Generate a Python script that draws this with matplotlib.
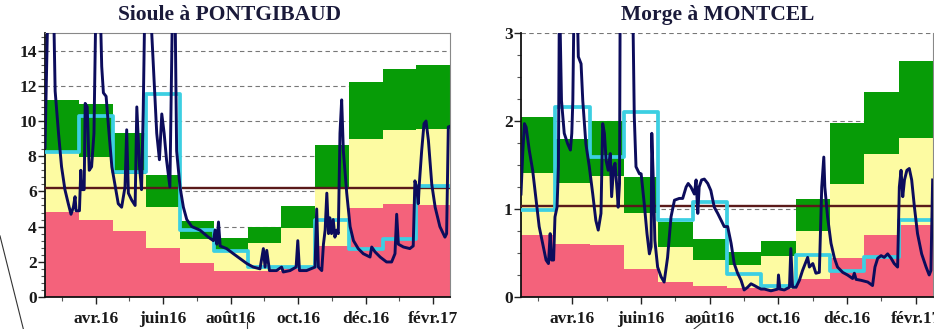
import numpy as np
import matplotlib
matplotlib.use("Agg")
import matplotlib.pyplot as plt
from matplotlib.ticker import MultipleLocator, FixedLocator
from matplotlib.lines import Line2D

plt.rcParams['font.family'] = ['Liberation Serif', 'DejaVu Serif']
plt.rcParams['font.weight'] = 'bold'

# ---------------- data ----------------
month_labels = ["avr.16", "juin16", "août16", "oct.16", "déc.16", "févr.17"]
label_pos = [1.5, 3.5, 5.5, 7.5, 9.5, 11.5]

# Sioule à PONTGIBAUD (monthly bands)
L_pink_top = [4.83, 4.36, 3.75, 2.80, 1.91, 1.50, 1.50, 1.62, 2.90, 5.03, 5.28, 5.20]
L_green_bot = [8.24, 7.95, 7.00, 5.11, 3.30, 2.67, 3.05, 3.90, 6.20, 8.98, 9.50, 9.55]
L_green_top = [11.17, 10.95, 9.34, 6.91, 4.33, 3.33, 4.00, 5.15, 8.64, 12.23, 12.94, 13.20]
L_cyan = [8.24, 10.30, 7.10, 11.55, 3.83, 2.62, 1.72, 1.72, 4.37, 2.70, 3.28, 6.28]
L_ref = 6.22

L_x = [0.00, 0.10, 0.25, 0.30, 0.40, 0.49, 0.59, 0.69, 0.77, 0.84, 0.89, 0.92, 1.02, 1.06,
       1.09, 1.16, 1.19, 1.25, 1.31, 1.38, 1.45, 1.51, 1.63, 1.68, 1.73, 1.81, 1.88, 1.98,
       2.07, 2.17, 2.27, 2.37, 2.42, 2.47, 2.57, 2.67, 2.72, 2.80, 2.86, 2.91, 2.96, 3.11,
       3.21, 3.31, 3.39, 3.46, 3.53, 3.60, 3.70, 3.78, 3.85, 3.90, 4.00, 4.10, 4.20, 4.35,
       4.59, 4.84, 4.99, 5.04, 5.09, 5.14, 5.19, 5.38, 5.58, 5.78, 5.98, 6.17, 6.37, 6.47,
       6.52, 6.57, 6.65, 6.86, 7.01, 7.06, 7.26, 7.44, 7.49, 7.54, 7.75, 8.00, 8.05, 8.10,
       8.20, 8.25, 8.30, 8.35, 8.40, 8.44, 8.49, 8.54, 8.59, 8.64, 8.69, 8.74, 8.79, 8.84,
       8.94, 9.04, 9.14, 9.28, 9.43, 9.63, 9.68, 9.78, 9.93, 10.12, 10.27, 10.37, 10.42,
       10.47, 10.62, 10.81, 10.91, 10.96, 11.01, 11.06, 11.09, 11.16, 11.23, 11.29, 11.36,
       11.46, 11.56, 11.70, 11.85, 11.90, 11.95, 12.00]
L_flow = [8.5, 18.0, 17.0, 11.7, 9.3, 7.4, 6.1, 5.3, 4.7, 5.1, 5.7, 4.9, 4.9, 7.2,
          6.1, 6.1, 11.0, 10.8, 7.2, 7.4, 9.3, 17.0, 17.0, 13.1, 11.6, 11.4, 9.7, 7.4,
          6.4, 5.3, 5.1, 6.25, 9.5, 5.9, 5.5, 5.2, 10.8, 7.4, 6.1, 10.6, 17.0, 17.0,
          13.1, 9.3, 7.8, 10.4, 9.3, 7.8, 6.25, 17.0, 17.0, 8.3, 6.25, 5.1, 4.4, 4.0,
          3.8, 3.4, 3.2, 3.8, 3.0, 4.26, 2.9, 2.75, 2.46, 2.18, 1.9, 1.7, 1.6, 2.75,
          1.7, 2.65, 1.5, 1.5, 1.7, 1.42, 1.5, 1.7, 3.2, 1.5, 1.5, 1.7, 5.0, 1.7,
          1.5, 3.0, 3.8, 5.9, 3.6, 4.5, 3.6, 4.4, 3.4, 3.8, 3.6, 9.3, 11.2, 8.3,
          5.9, 4.0, 3.2, 2.75, 2.46, 2.27, 2.84, 2.56, 2.27, 1.99, 1.99, 2.46, 4.7,
          3.0, 2.84, 2.75, 2.9, 6.6, 6.25, 5.3, 6.4, 8.3, 9.85, 10.0, 8.9,
          6.4, 5.1, 4.0, 3.4, 3.6, 9.66, 9.7]

# Morge à MONTCEL
R_pink_top = [0.70, 0.60, 0.59, 0.32, 0.17, 0.12, 0.106, 0.095, 0.21, 0.44, 0.70, 0.82]
R_green_bot = [1.41, 1.29, 1.375, 0.95, 0.57, 0.42, 0.36, 0.47, 0.75, 1.28, 1.63, 1.81]
R_green_top = [2.04, 1.80, 2.00, 1.36, 0.85, 0.66, 0.51, 0.64, 1.11, 1.98, 2.33, 2.68]
R_cyan = [0.99, 2.16, 1.59, 2.10, 0.875, 1.08, 0.26, 0.12, 0.48, 0.29, 0.46, 0.88]
R_ref = 1.03

R_x = [0.00, 0.05, 0.10, 0.15, 0.24, 0.34, 0.44, 0.53, 0.63, 0.73, 0.80, 0.85, 0.89, 0.95,
       0.99, 1.05, 1.09, 1.12, 1.18, 1.26, 1.36, 1.44, 1.48, 1.51, 1.55, 1.63, 1.67, 1.75,
       1.80, 1.89, 1.99, 2.09, 2.18, 2.25, 2.33, 2.38, 2.43, 2.48, 2.54, 2.60, 2.64, 2.70,
       2.74, 2.80, 2.83, 2.87, 2.89, 3.06, 3.25, 3.30, 3.35, 3.45, 3.50, 3.59, 3.67, 3.74,
       3.79, 3.81, 3.86, 3.90, 3.98, 4.08, 4.17, 4.27, 4.37, 4.47, 4.61, 4.71, 4.81, 4.87,
       4.95, 5.05, 5.10, 5.15, 5.19, 5.26, 5.34, 5.44, 5.53, 5.63, 5.73, 5.83, 5.92, 6.02,
       6.12, 6.21, 6.31, 6.41, 6.50, 6.60, 6.70, 6.80, 6.89, 6.99, 7.09, 7.18, 7.28, 7.48,
       7.50, 7.54, 7.67, 7.82, 7.86, 7.91, 8.01, 8.11, 8.20, 8.35, 8.40, 8.50, 8.59, 8.69,
       8.76, 8.82, 8.85, 8.93, 9.03, 9.13, 9.22, 9.37, 9.51, 9.66, 9.71, 9.76, 9.90, 10.10,
       10.24, 10.31, 10.39, 10.49, 10.58, 10.68, 10.78, 10.87, 10.97, 11.02, 11.07, 11.12,
       11.17, 11.24, 11.31, 11.38, 11.46, 11.55, 11.67, 11.80, 11.89, 11.94, 11.99]
R_flow = [1.17, 1.63, 1.97, 1.93, 1.67, 1.44, 1.10, 0.80, 0.61, 0.42, 0.38, 0.72, 0.42, 0.42,
          0.91, 1.02, 1.48, 3.5, 2.23, 1.86, 1.74, 1.67, 1.86, 2.23, 3.5, 3.5, 2.73, 2.65,
          2.23, 1.74, 1.48, 1.17, 0.87, 0.76, 0.95, 1.97, 1.86, 1.55, 1.44, 1.63, 1.14, 1.48,
          1.52, 1.21, 1.02, 1.29, 3.5, 4.0, 3.5, 2.05, 1.48, 1.40, 1.40, 1.06, 0.72, 0.49,
          0.57, 1.86, 1.25, 0.64, 0.34, 0.23, 0.17, 0.45, 0.91, 1.10, 1.12, 1.12, 1.25, 1.29,
          1.25, 1.17, 1.33, 0.95, 1.25, 1.33, 1.34, 1.29, 1.21, 1.02, 0.95, 0.87, 0.80, 0.80,
          0.61, 0.38, 0.27, 0.19, 0.08, 0.11, 0.15, 0.13, 0.11, 0.09, 0.09, 0.08, 0.07, 0.09,
          0.25, 0.09, 0.08, 0.11, 0.55, 0.11, 0.11, 0.19, 0.30, 0.45, 0.34, 0.38, 0.27, 0.28,
          1.25, 1.59, 1.25, 0.91, 0.61, 0.44, 0.34, 0.28, 0.25, 0.21, 0.27, 0.20, 0.19, 0.17,
          0.13, 0.34, 0.44, 0.47, 0.45, 0.49, 0.44, 0.38, 0.34, 1.25, 1.44, 1.14,
          1.33, 1.44, 1.46, 1.33, 1.02, 0.72, 0.49, 0.34, 0.25, 0.30, 1.33]

# ---------------- style ----------------
PINK = "#F4627B"
YELLOW = "#FDFBA2"
GREEN = "#079C07"
CYAN = "#3CCFE2"
NAVY = "#0C0C5C"
BROWN = "#5A1A1A"

fig = plt.figure(figsize=(9.34, 3.29), dpi=100)
axL = fig.add_axes([0.0482, 0.0973, 0.4336, 0.8024])
axR = fig.add_axes([0.5578, 0.0973, 0.4411, 0.8024])


def draw(ax, pink, gbot, gtop, cyan, ref, fx, fy, ymax, ymaj, ymin):
    m = np.arange(12)
    pink = np.array(pink); gbot = np.array(gbot); gtop = np.array(gtop)
    ax.bar(m, pink, width=1.0, align='edge', color=PINK, linewidth=0, zorder=2)
    ax.bar(m, gbot - pink, bottom=pink, width=1.0, align='edge', color=YELLOW, linewidth=0, zorder=2)
    ax.bar(m, gtop - gbot, bottom=gbot, width=1.0, align='edge', color=GREEN, linewidth=0, zorder=2)
    ax.axhline(ref, color=BROWN, lw=1.7, zorder=3)
    ax.step(np.arange(13), list(cyan) + [cyan[-1]], where='post', color=CYAN, lw=2.7, zorder=4)
    ax.plot(fx, fy, color=NAVY, lw=2.1, zorder=5, solid_joinstyle='round')
    ax.set_xlim(0, 12)
    ax.set_ylim(0, ymax)
    ax.yaxis.set_major_locator(MultipleLocator(ymaj))
    ax.yaxis.set_minor_locator(MultipleLocator(ymin))
    ax.xaxis.set_major_locator(FixedLocator(label_pos))
    ax.xaxis.set_minor_locator(FixedLocator([0.5, 2.5, 4.5, 6.5, 8.5, 10.5]))
    ax.set_xticklabels(month_labels)
    ax.grid(axis='y', which='major', color='#777777', linestyle=(0, (4, 3)), lw=0.8, zorder=0)
    ax.set_axisbelow(True)
    ax.tick_params(axis='both', which='major', length=5, width=1, labelsize=12.5, colors='#222222')
    ax.tick_params(axis='both', which='minor', length=3, width=0.8, colors='#555555')
    ax.tick_params(axis='x', which='major', pad=5)
    ax.tick_params(axis='y', which='major', pad=1)
    for lab in ax.get_xticklabels() + ax.get_yticklabels():
        lab.set_fontweight('bold')
        lab.set_color('#1a1a1a')
    ax.spines['left'].set_color('#111111'); ax.spines['left'].set_linewidth(1.3)
    ax.spines['bottom'].set_color('#111111'); ax.spines['bottom'].set_linewidth(1.3)
    ax.spines['top'].set_color('#888888')
    ax.spines['right'].set_color('#888888')


draw(axL, L_pink_top, L_green_bot, L_green_top, L_cyan, L_ref, L_x, L_flow, 15, 2, 0.4)
draw(axR, R_pink_top, R_green_bot, R_green_top, R_cyan, R_ref, R_x, R_flow, 3, 1, 0.25)
axR.spines['top'].set_visible(False)

fig.text(0.246, 0.955, "Sioule à PONTGIBAUD", ha='center', va='center',
         fontsize=15.5, fontweight='bold', color='#1a1a3a')
fig.text(0.768, 0.955, "Morge à MONTCEL", ha='center', va='center',
         fontsize=15.5, fontweight='bold', color='#1a1a3a')

# stray annotation strokes visible in the screenshot
fig.add_artist(Line2D([0.0, 0.025], [0.283, 0.0], transform=fig.transFigure, color='#333333', lw=0.8))
fig.add_artist(Line2D([0.2645, 0.2645], [0.0, 0.02], transform=fig.transFigure, color='#333333', lw=0.8))
fig.add_artist(Line2D([0.743, 0.752], [0.0, 0.02], transform=fig.transFigure, color='#333333', lw=0.8))

fig.savefig("out.png", dpi=100)
